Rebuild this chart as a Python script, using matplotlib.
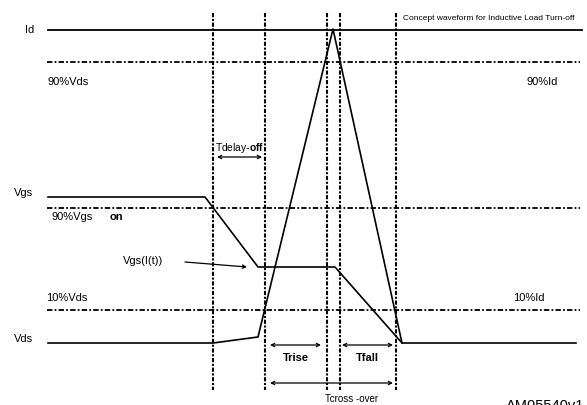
import matplotlib
matplotlib.use("Agg")
import matplotlib.pyplot as plt

plt.rcParams['font.family'] = ['Liberation Sans', 'DejaVu Sans']
plt.rcParams['mathtext.fontset'] = 'custom'
plt.rcParams['mathtext.rm'] = 'Liberation Sans'
plt.rcParams['mathtext.bf'] = 'Liberation Sans:bold'

# Schematic waveform vertices (pixel-like diagram units, y grows downward)
id_x = [48, 582]
id_y = [30, 30]
vgs_x = [48, 205, 258, 335, 402, 576]
vgs_y = [197, 197, 267, 267, 343, 343]
vds_x = [48, 213, 258, 333, 402]
vds_y = [343, 343, 337, 29, 343]

# Threshold levels (dash-dot horizontal lines)
level_y = [62, 208, 310]
level_x = [47, 580]

# Timing markers (dotted vertical lines)
marker_x = [213, 265, 327, 340, 396]
marker_y = [13, 390]

fig = plt.figure(figsize=(5.87, 4.05), dpi=100)
ax = fig.add_axes([0, 0, 1, 1])
ax.set_xlim(0, 587)
ax.set_ylim(405, 0)
ax.axis('off')

ax.plot(id_x, id_y, color='black', lw=1.3)
ax.plot(vgs_x, vgs_y, color='black', lw=1.2)
ax.plot(vds_x, vds_y, color='black', lw=1.2)

for y in level_y:
    ax.plot(level_x, [y, y], color='black', lw=1.3, linestyle=(0, (3, 1.2, 1, 1.2)))
for x in marker_x:
    ax.plot([x, x], marker_y, color='black', lw=1.5, linestyle=(0, (2, 0.8, 1, 0.8)))

fs = 8
ax.text(25, 30, 'Id', fontsize=fs, ha='left', va='center')
ax.text(48, 82, '90%Vds', fontsize=fs, va='center')
ax.text(558, 82, '90%Id', fontsize=fs, ha='right', va='center')
ax.text(14, 193, 'Vgs', fontsize=fs, va='center')
ax.text(52, 217, '90%Vgs', fontsize=fs, va='center')
ax.text(110, 217, 'on', fontsize=fs, fontweight='bold', va='center')
ax.text(123, 261, 'Vgs(I(t))', fontsize=fs, va='center')
ax.text(46, 298, '10%Vds', fontsize=fs, va='center')
ax.text(513, 298, '10%Id', fontsize=fs, va='center')
ax.text(14, 339, 'Vds', fontsize=fs, va='center')
ax.text(403, 19, 'Concept waveform for Inductive Load Turn-off', fontsize=6, va='center')
ax.text(215, 148, r'Tdelay-$\mathbf{off}$', fontsize=7.4, va='center')
ax.text(283, 358, 'Trise', fontsize=fs, fontweight='bold', va='center')
ax.text(367, 358, 'Tfall', fontsize=fs, fontweight='bold', va='center', ha='center')
ax.text(352, 399, 'Tcross -over', fontsize=7, va='center', ha='center')
ax.text(506, 399, 'AM05540v1', fontsize=10.5, va='top', ha='left', clip_on=False)

ap = dict(arrowstyle='<->', color='black', lw=0.9, mutation_scale=6, shrinkA=0, shrinkB=0)
ax.annotate('', xy=(217, 157), xytext=(262, 157), arrowprops=ap)
ax.annotate('', xy=(270, 345), xytext=(321, 345), arrowprops=ap)
ax.annotate('', xy=(342, 345), xytext=(393, 345), arrowprops=ap)
ax.annotate('', xy=(270, 383), xytext=(393, 383), arrowprops=ap)
ax.annotate('', xy=(247, 267), xytext=(185, 262),
            arrowprops=dict(arrowstyle='->', color='black', lw=0.9, mutation_scale=6,
                            shrinkA=0, shrinkB=0))

fig.savefig('out.png', dpi=100)
